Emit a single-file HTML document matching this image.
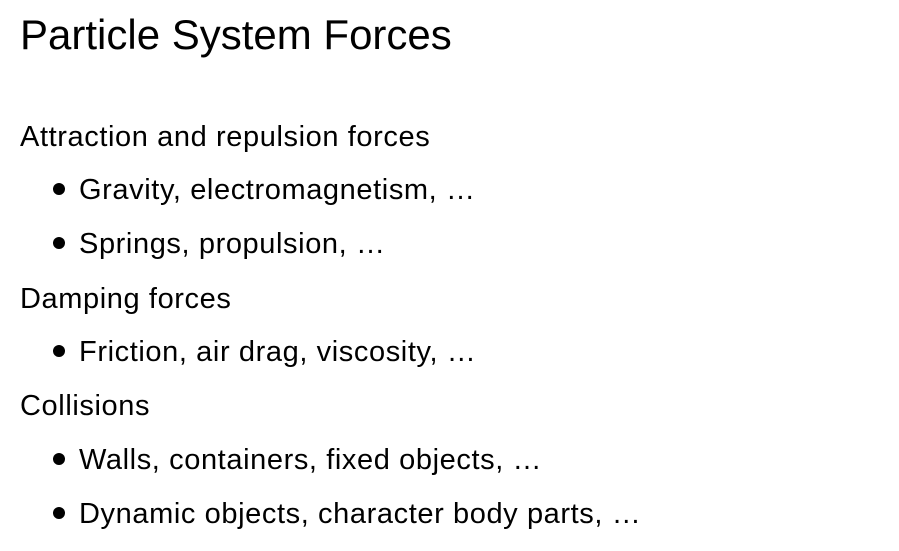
<!DOCTYPE html>
<html>
<head>
<meta charset="utf-8">
<style>
  html, body { margin:0; padding:0; background:#fff; }
  body { width:899px; height:551px; position:relative; overflow:hidden;
         font-family:"Liberation Sans", "DejaVu Sans", sans-serif; color:#000; }
  .t { position:absolute; left:20px; top:14px; font-size:42px; line-height:42px; white-space:nowrap; }
  .l { position:absolute; font-size:29px; line-height:29px; white-space:nowrap; letter-spacing:0.6px; }
  .h { left:20px; }
  .b { left:79px; }
  .dot { position:absolute; left:53px; width:12px; height:12px; border-radius:50%; background:#000; }
</style>
</head>
<body>
  <div class="t">Particle System Forces</div>

  <div class="l h" style="top:123px">Attraction and repulsion forces</div>
  <div class="dot" style="top:183px"></div>
  <div class="l b" style="top:176px">Gravity, electromagnetism, …</div>
  <div class="dot" style="top:237px"></div>
  <div class="l b" style="top:230px">Springs, propulsion, …</div>

  <div class="l h" style="top:285px">Damping forces</div>
  <div class="dot" style="top:345px"></div>
  <div class="l b" style="top:338px">Friction, air drag, viscosity, …</div>

  <div class="l h" style="top:392px">Collisions</div>
  <div class="dot" style="top:453px"></div>
  <div class="l b" style="top:446px">Walls, containers, fixed objects, …</div>
  <div class="dot" style="top:507px"></div>
  <div class="l b" style="top:500px">Dynamic objects, character body parts, …</div>
</body>
</html>
